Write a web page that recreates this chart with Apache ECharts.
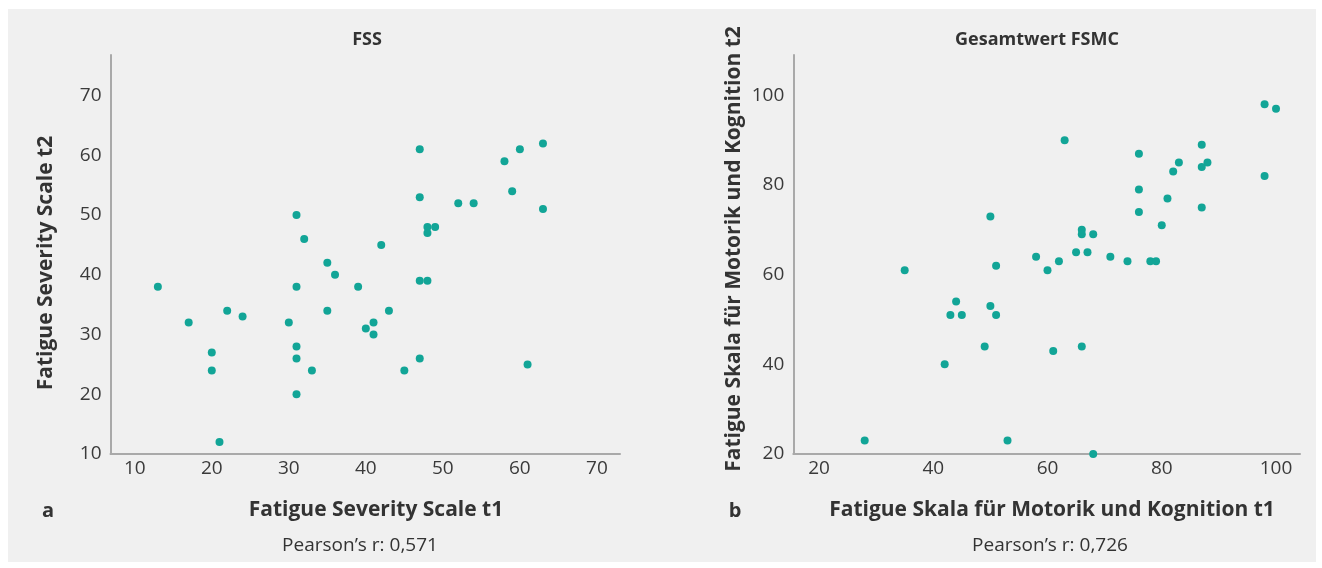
<!DOCTYPE html>
<html>
<head>
<meta charset="utf-8">
<script src="https://cdn.jsdelivr.net/npm/echarts@6/dist/echarts.min.js"></script>
<style>
  html, body { margin: 0; padding: 0; background: #ffffff; }
  #panel { position: absolute; left: 8px; top: 9px; width: 1308px; height: 553px; background: #f0f0f0; }
  #chart { position: absolute; left: 0; top: 0; width: 1322px; height: 568px; }
</style>
</head>
<body>
<div id="panel"></div>
<div id="chart"></div>
<script>
// ---- data ----
const fssT1 = [13,17,20,20,21,22,24,30,31,31,31,31,33,35,36,35,39,41,40,41,43,47,48,47,45,61,47,47,52,54,58,60,63,59,63,48,49,48,42,32,31];
const fssT2 = [38,32,27,24,12,34,33,32,38,28,26,20,24,42,40,34,38,32,31,30,34,39,39,26,24,25,61,53,52,52,59,61,62,54,51,48,48,47,45,46,50];
const fsmcT1 = [28,35,42,43,45,44,49,50,51,51,50,53,58,60,61,62,63,65,66,66,66,67,68,68,71,74,76,76,76,78,79,80,81,82,83,87,87,88,87,98,100,98];
const fsmcT2 = [23,61,40,51,51,54,44,53,51,62,73,23,64,61,43,63,90,65,70,69,44,65,69,20,64,63,87,79,74,63,63,71,77,83,85,89,84,85,75,98,97,82];

const fssXTicks = [10,20,30,40,50,60,70];
const fssYTicks = [10,20,30,40,50,60,70];
const fsmcXTicks = [20,40,60,80,100];
const fsmcYTicks = [20,40,60,80,100];

const titleLeft = 'FSS';
const titleRight = 'Gesamtwert FSMC';
const xNameLeft = 'Fatigue Severity Scale t1';
const yNameLeft = 'Fatigue Severity Scale t2';
const xNameRight = 'Fatigue Skala für Motorik und Kognition t1';
const yNameRight = 'Fatigue Skala für Motorik und Kognition t2';
const pearsonLeft = 'Pearson\u2019s r: 0,571';
const pearsonRight = 'Pearson\u2019s r: 0,726';

// ---- chart ----
const FONT = '"Open Sans", "Noto Sans", sans-serif';
const dotColor = '#12a597';
const axisColor = '#a9a9a9';
const textColor = '#333333';

function pairs(xs, ys) { return xs.map((x, i) => [x, ys[i]]); }

function axisCommon(ticks, min, max, isX) {
  return {
    type: 'value', min: min, max: max,
    axisLine: { show: true, onZero: false, lineStyle: { color: axisColor, width: 2 } },
    axisTick: { show: false },
    splitLine: { show: false },
    axisLabel: {
      customValues: ticks,
      color: '#3a3a3a', fontFamily: FONT, fontSize: 19,
      margin: isX ? 5 : 9
    }
  };
}

const chart = echarts.init(document.getElementById('chart'), null, { renderer: 'canvas' });

function txt(x, y, text, opts) {
  return Object.assign({
    type: 'text', x: x, y: y, silent: true,
    style: Object.assign({
      text: text, fill: textColor, font: (opts && opts.font) || ('bold 21px ' + FONT),
      textAlign: 'center', textVerticalAlign: 'middle'
    }, (opts && opts.style) || {})
  }, (opts && opts.el) || {});
}

chart.setOption({
  backgroundColor: 'transparent',
  animation: false,
  grid: [
    { left: 110.5, top: 55, width: 509.5, height: 399 },
    { left: 793.3, top: 55, width: 506.7, height: 399 }
  ],
  xAxis: [
    Object.assign(axisCommon(fssXTicks, 6.85, 73.0, true), { gridIndex: 0 }),
    Object.assign(axisCommon(fsmcXTicks, 15.5, 104.2, true), { gridIndex: 1 })
  ],
  yAxis: [
    Object.assign(axisCommon(fssYTicks, 10, 76.8, false), { gridIndex: 0 }),
    Object.assign(axisCommon(fsmcYTicks, 20, 109, false), { gridIndex: 1 })
  ],
  series: [
    { type: 'scatter', xAxisIndex: 0, yAxisIndex: 0, data: pairs(fssT1, fssT2),
      symbolSize: 8, clip: false, itemStyle: { color: dotColor, opacity: 1 } },
    { type: 'scatter', xAxisIndex: 1, yAxisIndex: 1, data: pairs(fsmcT1, fsmcT2),
      symbolSize: 8, clip: false, itemStyle: { color: dotColor, opacity: 1 } }
  ],
  graphic: [
    txt(367, 40, titleLeft, { font: 'bold 18px ' + FONT }),
    txt(1037, 40, titleRight, { font: 'bold 18px ' + FONT }),
    txt(376, 510, xNameLeft),
    txt(1052, 510, xNameRight),
    txt(46, 263, yNameLeft, { el: { rotation: Math.PI / 2 } }),
    txt(734, 249, yNameRight, { el: { rotation: Math.PI / 2 } }),
    txt(48, 511, 'a', { font: 'bold 20px ' + FONT }),
    txt(735, 511, 'b', { font: 'bold 20px ' + FONT }),
    txt(360, 546, pearsonLeft, { font: '19px ' + FONT }),
    txt(1050, 546, pearsonRight, { font: '19px ' + FONT })
  ]
});
</script>
</body>
</html>
